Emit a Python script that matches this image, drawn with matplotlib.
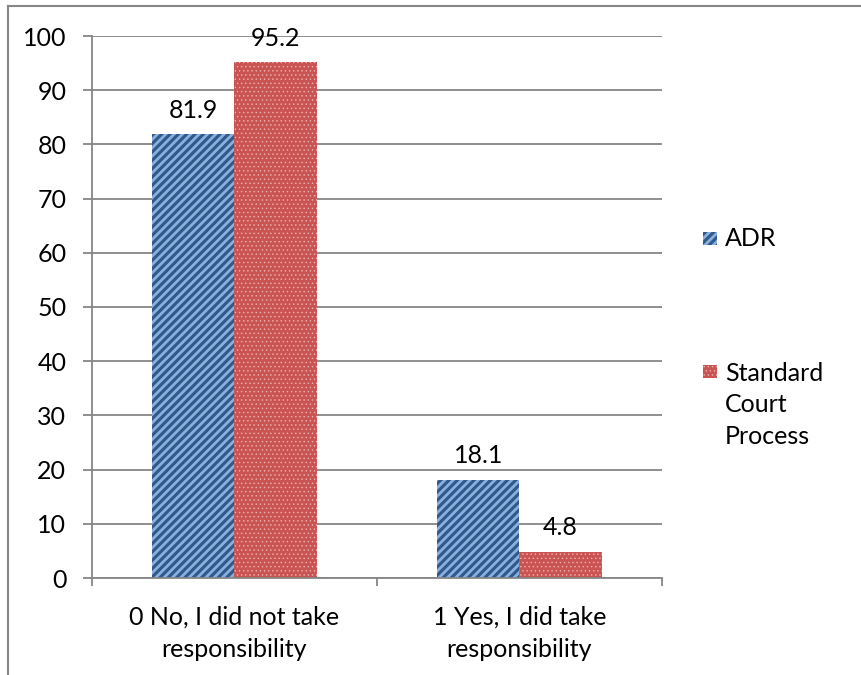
import matplotlib
matplotlib.use("Agg")
import matplotlib.pyplot as plt
import matplotlib as mpl
from matplotlib.patches import Rectangle
from matplotlib.lines import Line2D
import numpy as np

categories = ["0 No, I did not take\nresponsibility", "1 Yes, I did take\nresponsibility"]
series_names = ["ADR", "Standard\nCourt\nProcess"]
adr = [81.9, 18.1]
standard = [95.2, 4.8]
y_ticks = [0, 10, 20, 30, 40, 50, 60, 70, 80, 90, 100]

plt.rcParams['font.family'] = ['Lato', 'DejaVu Sans']
FS = 18
GRAY = '#868686'

W, H = 862, 675
fig = plt.figure(figsize=(W / 100, H / 100), dpi=100)
ax = fig.add_axes([92 / W, 1 - 578 / H, (662 - 92) / W, (578 - 36) / H])

x = np.arange(len(categories))
bw = 0.288

blue_face = '#2E5A8C'
blue_hatch = '#8DAFDB'
red_face = '#C95452'
red_hatch = '#EDB3B1'

with mpl.rc_context({'hatch.linewidth': 2.0}):
    b1 = ax.bar(x - bw / 2, adr, bw, color=blue_face, edgecolor=blue_hatch,
                hatch='////', linewidth=0, zorder=3)
with mpl.rc_context({'hatch.linewidth': 0.5}):
    b2 = ax.bar(x + bw / 2, standard, bw, color=red_face, edgecolor=red_hatch,
                hatch='....', linewidth=0, zorder=3)

ax.bar_label(b1, fmt='%.1f', padding=9, fontsize=FS)
ax.bar_label(b2, fmt='%.1f', padding=9, fontsize=FS)

ax.set_xlim(-0.5, 1.5)
ax.set_ylim(0, 100)
ax.set_yticks(y_ticks)
ax.set_yticklabels([str(v) for v in y_ticks], fontsize=FS)
ax.set_xticks(x)
ax.set_xticklabels(categories, fontsize=FS, linespacing=1.5)
ax.set_xticks([-0.5, 0.5, 1.5], minor=True)

ax.tick_params(axis='y', length=6.5, width=1.3, color=GRAY, pad=12, direction='out')
ax.tick_params(axis='x', which='major', length=0, pad=20)
ax.tick_params(axis='x', which='minor', length=6, width=1.3, color=GRAY, direction='out')

ax.yaxis.grid(True, color=GRAY, linewidth=1.3, zorder=0)
ax.set_axisbelow(True)
for s in ['top', 'right']:
    ax.spines[s].set_visible(False)
for s in ['left', 'bottom']:
    ax.spines[s].set_color(GRAY)
    ax.spines[s].set_linewidth(1.3)
    ax.spines[s].set_zorder(4)

# Legend (drawn manually to match layout)
def px(xp, yp):
    return xp / W, 1 - yp / H

with mpl.rc_context({'hatch.linewidth': 2.0}):
    r1 = Rectangle(px(703, 245), 14 / W, 13 / H, transform=fig.transFigure,
                   facecolor=blue_face, edgecolor=blue_hatch, hatch='////', linewidth=0)
    fig.add_artist(r1)
with mpl.rc_context({'hatch.linewidth': 0.5}):
    r2 = Rectangle(px(703, 378), 14 / W, 13 / H, transform=fig.transFigure,
                   facecolor=red_face, edgecolor=red_hatch, hatch='....', linewidth=0)
    fig.add_artist(r2)
fig.text(*px(725, 238), series_names[0], fontsize=FS, va='center', ha='left')
fig.text(*px(725, 405), series_names[1], fontsize=FS, va='center', ha='left',
         linespacing=1.45)

# Outer border (top and left edges visible)
fig.add_artist(Line2D([8 / W, 8 / W], [0, 1 - 6 / H], transform=fig.transFigure,
                      color=GRAY, linewidth=1.5))
fig.add_artist(Line2D([8 / W, 1], [1 - 6 / H, 1 - 6 / H], transform=fig.transFigure,
                      color=GRAY, linewidth=1.5))

fig.savefig('out.png', dpi=100, facecolor='white')
